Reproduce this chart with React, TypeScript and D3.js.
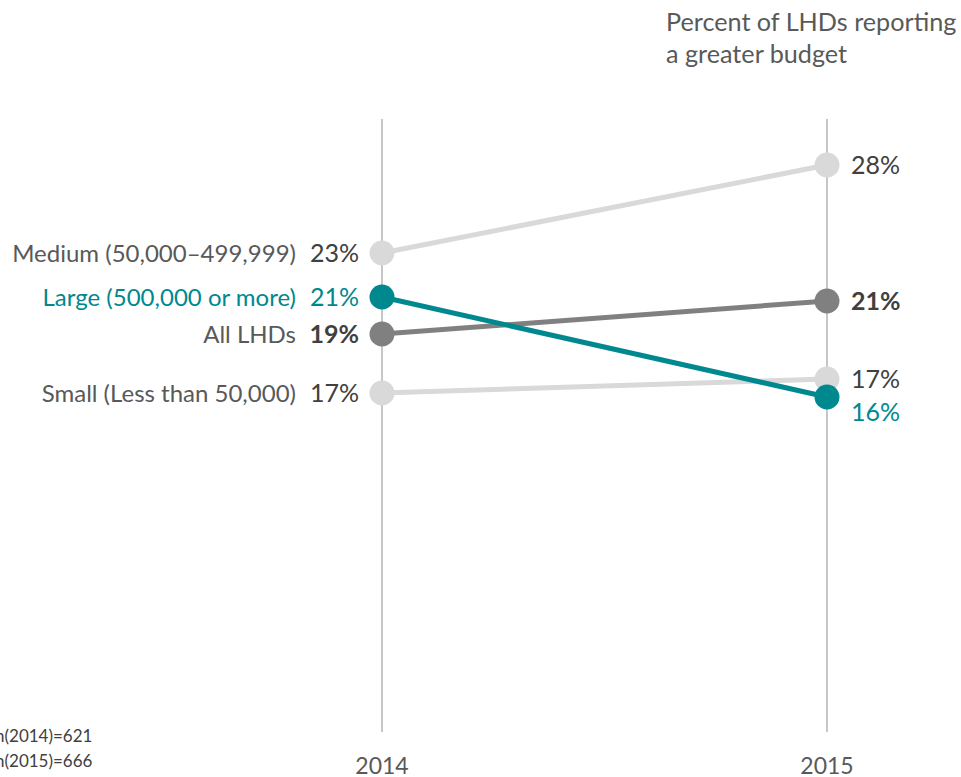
import React from "react";
import * as d3 from "d3";

const years = ["2014", "2015"];
const seriesNames = ["Medium (50,000–499,999)", "Small (Less than 50,000)", "All LHDs", "Large (500,000 or more)"];
const values2014 = [23.45, 16.45, 19.4, 21.25];
const values2015 = [27.85, 17.15, 21.05, 16.25];
const labels2014 = ["23%", "17%", "19%", "21%"];
const labels2015 = ["28%", "17%", "21%", "16%"];
const seriesColors = ["#d9d9d9", "#d9d9d9", "#808080", "#00888f"];
const nameColors = ["#595959", "#595959", "#595959", "#00888f"];
const labelColors2015 = ["#404040", "#404040", "#404040", "#00888f"];
const labelColors2014 = ["#404040", "#404040", "#404040", "#00888f"];
const boldFlags = [false, false, true, false];
const label2015Offset = [0, 0, 0, 15];
const titleLines = ["Percent of LHDs reporting", "a greater budget"];
const notes = ["n(2014)=621", "n(2015)=666"];

const W = 961;
const H = 777;
const FONT = "Lato, 'Open Sans', sans-serif";

export default function App() {
  const x = d3.scalePoint<string>().domain(years).range([382, 827]);
  const y = d3.scaleLinear().domain([0, 30]).range([722, 122]);
  const line = d3.line<[number, number]>().x((d) => d[0]).y((d) => d[1]);
  const x0 = x("2014")!;
  const x1 = x("2015")!;

  return (
    <svg width={W} height={H} style={{ position: "absolute", left: 0, top: 0, background: "#fff" }} fontFamily={FONT}>
      {years.map((yr) => (
        <g key={yr}>
          <line x1={x(yr)} x2={x(yr)} y1={119} y2={732} stroke="#b3b3b3" strokeWidth={1.5} />
          <text x={x(yr)} y={774} textAnchor="middle" fontSize={23} fill="#595959">{yr}</text>
        </g>
      ))}
      {seriesNames.map((name, i) => (
        <g key={name}>
          <path
            d={line([[x0, y(values2014[i])], [x1, y(values2015[i])]]) || ""}
            stroke={seriesColors[i]}
            strokeWidth={5}
            fill="none"
          />
          <circle cx={x0} cy={y(values2014[i])} r={12.5} fill={seriesColors[i]} />
          <circle cx={x1} cy={y(values2015[i])} r={12.5} fill={seriesColors[i]} />
          <text x={296} y={y(values2014[i])} dy="0.36em" textAnchor="end" fontSize={24} fill={nameColors[i]}>{name}</text>
          <text x={359} y={y(values2014[i])} dy="0.36em" textAnchor="end" fontSize={25} fill={labelColors2014[i]} fontWeight={boldFlags[i] ? 700 : 400}>{labels2014[i]}</text>
          <text x={851} y={y(values2015[i]) + label2015Offset[i]} dy="0.36em" textAnchor="start" fontSize={25} fill={labelColors2015[i]} fontWeight={boldFlags[i] ? 700 : 400}>{labels2015[i]}</text>
        </g>
      ))}
      {titleLines.map((t, i) => (
        <text key={t} x={666} y={31 + i * 32} fontSize={25.2} fill="#595959">{t}</text>
      ))}
      {notes.map((t, i) => (
        <text key={t} x={-5} y={742 + i * 25} fontSize={17} fill="#404040">{t}</text>
      ))}
    </svg>
  );
}
